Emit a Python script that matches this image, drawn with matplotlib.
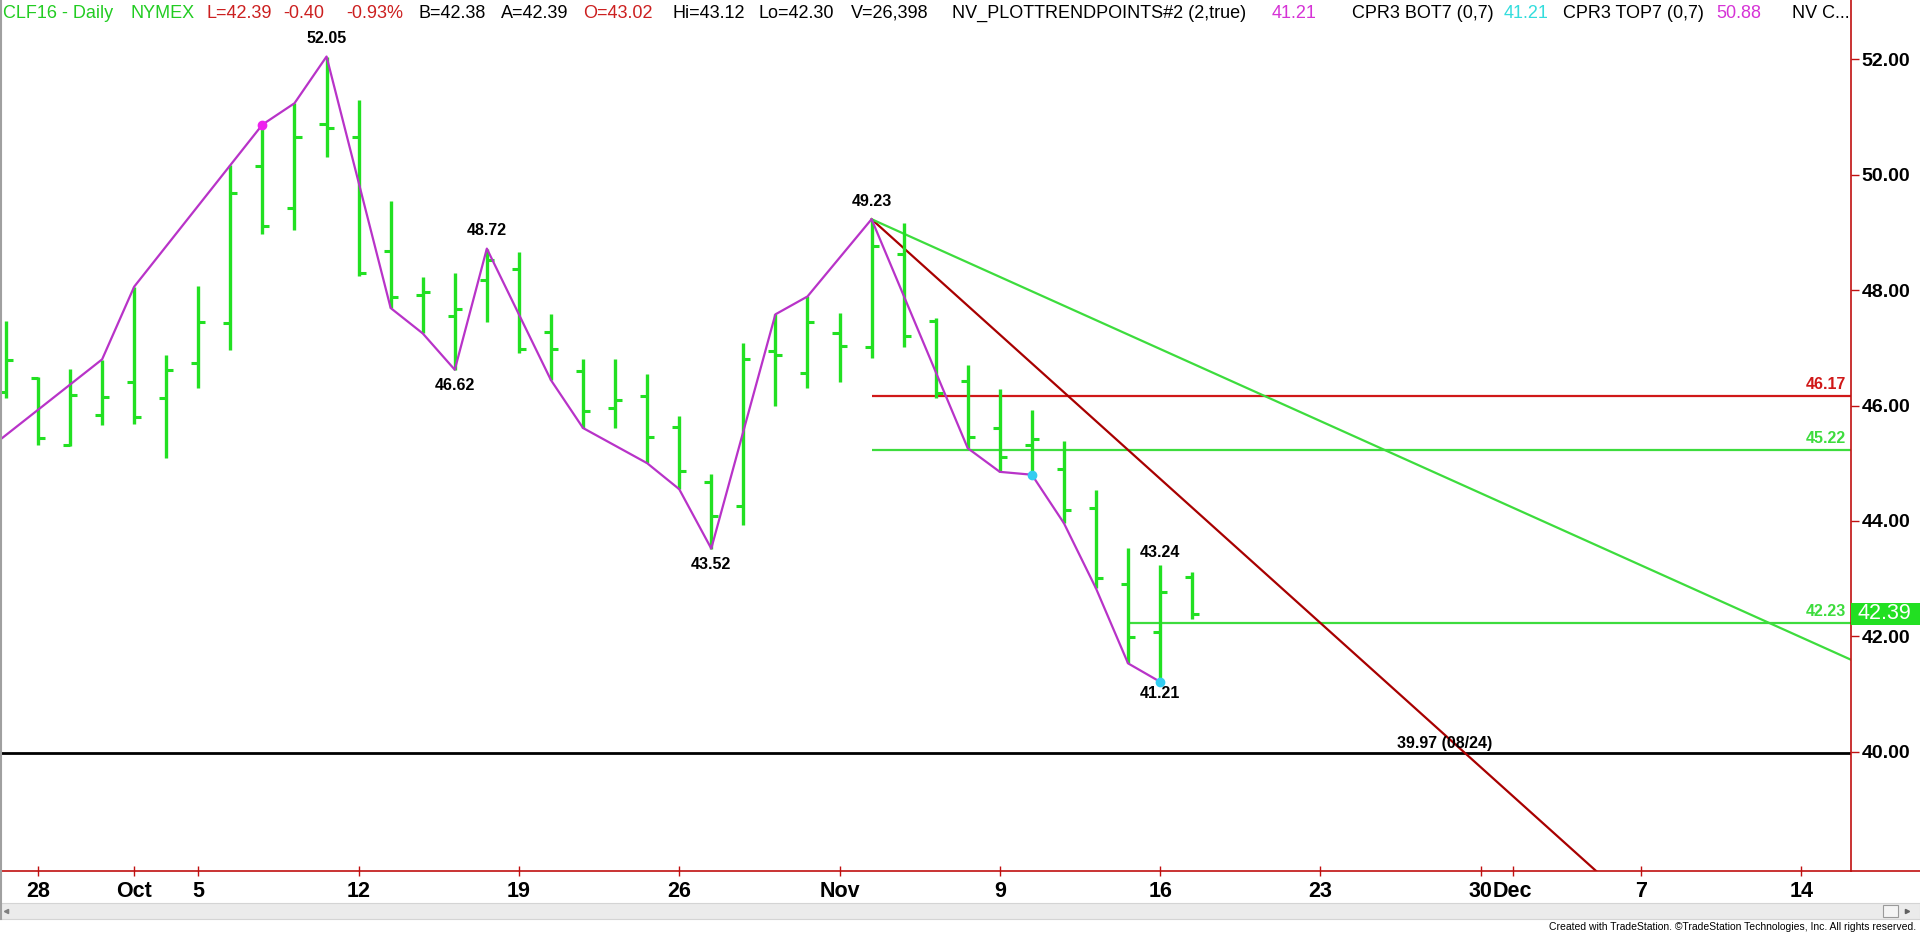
import matplotlib

matplotlib.use("Agg")

import matplotlib.pyplot as plt
import pandas as pd
from matplotlib.lines import Line2D
from matplotlib.patches import Rectangle
from matplotlib.transforms import blended_transform_factory


# CLF16 daily bars (left tick = open, right tick = close)
BAR_DATES = [
    "2015-09-25", "2015-09-28", "2015-09-29", "2015-09-30", "2015-10-01",
    "2015-10-02", "2015-10-05", "2015-10-06", "2015-10-07", "2015-10-08",
    "2015-10-09", "2015-10-12", "2015-10-13", "2015-10-14", "2015-10-15",
    "2015-10-16", "2015-10-19", "2015-10-20", "2015-10-21", "2015-10-22",
    "2015-10-23", "2015-10-26", "2015-10-27", "2015-10-28", "2015-10-29",
    "2015-10-30", "2015-11-02", "2015-11-03", "2015-11-04", "2015-11-05",
    "2015-11-06", "2015-11-09", "2015-11-10", "2015-11-11", "2015-11-12",
    "2015-11-13", "2015-11-16", "2015-11-17",
]
OPENS = [
    46.24, 46.47, 45.32, 45.84, 46.40, 46.13, 46.73, 47.43, 50.16, 49.42,
    50.88, 50.65, 48.67, 47.92, 47.55, 48.18, 48.37, 47.27, 46.60, 45.95,
    46.17, 45.62, 44.68, 44.26, 46.95, 46.56, 47.25, 47.01, 48.63, 47.47,
    46.43, 45.61, 45.31, 44.90, 44.22, 42.91, 42.08, 43.02,
]
HIGHS = [
    47.47, 46.50, 46.63, 46.79, 48.06, 46.88, 48.07, 50.17, 50.87, 51.24,
    52.05, 51.30, 49.55, 48.22, 48.30, 48.72, 48.66, 47.59, 46.80, 46.80,
    46.55, 45.82, 44.81, 47.09, 47.58, 47.89, 47.60, 49.23, 49.17, 47.51,
    46.70, 46.28, 45.92, 45.38, 44.54, 43.53, 43.24, 43.12,
]
LOWS = [
    46.13, 45.32, 45.30, 45.66, 45.68, 45.09, 46.30, 46.96, 48.98, 49.05,
    50.31, 48.24, 47.69, 47.25, 46.62, 47.44, 46.91, 46.44, 45.61, 45.61,
    45.00, 44.55, 43.52, 43.93, 45.99, 46.30, 46.40, 46.82, 47.02, 46.13,
    45.26, 44.85, 44.80, 43.96, 42.83, 41.53, 41.21, 42.30,
]
CLOSES = [
    46.79, 45.43, 46.18, 46.14, 45.80, 46.62, 47.44, 49.69, 49.11, 50.66,
    50.81, 48.29, 47.88, 47.96, 47.67, 48.53, 46.98, 46.98, 45.91, 46.10,
    45.45, 44.87, 44.09, 46.80, 46.88, 47.44, 47.03, 48.77, 47.20, 46.21,
    45.46, 45.10, 45.42, 44.19, 43.01, 41.99, 42.76, 42.39,
]

# NV_PLOTTRENDPOINTS swing line
SWING_DATES = [
    "2015-09-24", "2015-09-30", "2015-10-01", "2015-10-07", "2015-10-08",
    "2015-10-09", "2015-10-13", "2015-10-14", "2015-10-15", "2015-10-16",
    "2015-10-20", "2015-10-21", "2015-10-23", "2015-10-26", "2015-10-27",
    "2015-10-29", "2015-10-30", "2015-11-03", "2015-11-06", "2015-11-09",
    "2015-11-10", "2015-11-11", "2015-11-12", "2015-11-13", "2015-11-16",
]
SWING_PRICES = [
    45.05, 46.80, 48.06, 50.87, 51.24, 52.05, 47.69, 47.25, 46.62, 48.72,
    46.44, 45.61, 45.00, 44.55, 43.52, 47.58, 47.89, 49.23, 45.26, 44.85,
    44.80, 43.96, 42.83, 41.53, 41.21,
]

# labelled pivots: +1 label above, -1 label below
PIVOT_DATES = [
    "2015-10-09", "2015-10-15", "2015-10-16", "2015-10-27",
    "2015-11-03", "2015-11-16", "2015-11-16",
]
PIVOT_PRICES = [52.05, 46.62, 48.72, 43.52, 49.23, 43.24, 41.21]
PIVOT_SIDES = [1, -1, 1, -1, 1, 1, -1]

MAGENTA_DOT_DATES = ["2015-10-07"]
MAGENTA_DOT_PRICES = [50.87]
CYAN_DOT_DATES = ["2015-11-10", "2015-11-16"]
CYAN_DOT_PRICES = [44.80, 41.21]

# horizontal levels drawn from a start date to the right edge
LEVEL_PRICES = [46.17, 45.22, 42.23]
LEVEL_STARTS = ["2015-11-03", "2015-11-03", "2015-11-13"]

# trend lines off the 49.23 high
TREND_START_DATE = "2015-11-03"
TREND_START_PRICE = 49.23
RED_TREND_END_DATE = "2015-12-04"
RED_TREND_END_PRICE = 37.73
GREEN_TREND_END_DATE = "2015-12-16"
GREEN_TREND_END_PRICE = 41.48

SUPPORT_PRICE = 39.97
SUPPORT_LABEL = "39.97 (08/24)"
LAST_PRICE = 42.39

PRICE_TICKS = [40.0, 42.0, 44.0, 46.0, 48.0, 50.0, 52.0]
TICK_DATES = [
    "2015-09-28", "2015-10-01", "2015-10-05", "2015-10-12", "2015-10-19",
    "2015-10-26", "2015-11-02", "2015-11-09", "2015-11-16", "2015-11-23",
    "2015-11-30", "2015-12-01", "2015-12-07", "2015-12-14",
]
TICK_LABELS = [
    "28", "Oct", "5", "12", "19", "26", "Nov", "9", "16", "23", "30", "Dec",
    "7", "14",
]

HEADER = [
    ("CLF16 - Daily", "#22cc22", 3),
    ("NYMEX", "#22cc22", 130),
    ("L=42.39", "#cc2020", 207),
    ("-0.40", "#cc2020", 283),
    ("-0.93%", "#cc2020", 346),
    ("B=42.38", "black", 418),
    ("A=42.39", "black", 501),
    ("O=43.02", "#cc2020", 583),
    ("Hi=43.12", "black", 672),
    ("Lo=42.30", "black", 759),
    ("V=26,398", "black", 851),
    ("NV_PLOTTRENDPOINTS#2 (2,true)", "black", 952),
    ("41.21", "#d633d6", 1272),
    ("CPR3 BOT7 (0,7)", "black", 1352),
    ("41.21", "#33dddd", 1504),
    ("CPR3 TOP7 (0,7)", "black", 1563),
    ("50.88", "#d633d6", 1716),
    ("NV C...", "black", 1792),
]

BAR_GREEN = "#22e022"
LINE_GREEN = "#3ddc3d"
AXIS_RED = "#c01010"
FONT = "Liberation Sans"

FIG_W, FIG_H = 1920, 934
AX_RIGHT_PX = 1851
AX_BOTTOM_PX = 871
PX_PER_DAY = 32.06
FIRST_BAR_PX = 5.94


def main() -> None:
    calendar = pd.bdate_range("2015-09-24", "2015-12-18")

    def xs(dates):
        return [calendar.get_loc(pd.Timestamp(d)) for d in dates]

    fig = plt.figure(figsize=(FIG_W / 100, FIG_H / 100), dpi=100)
    fig.patch.set_facecolor("white")
    ax = fig.add_axes(
        [0, (FIG_H - AX_BOTTOM_PX) / FIG_H, AX_RIGHT_PX / FIG_W, AX_BOTTOM_PX / FIG_H]
    )

    first = xs(BAR_DATES[:1])[0]
    x_left = first - FIRST_BAR_PX / PX_PER_DAY
    ax.set_xlim(x_left, x_left + AX_RIGHT_PX / PX_PER_DAY)
    ax.set_ylim(37.93, 53.03)

    # OHLC bars
    bx = xs(BAR_DATES)
    tick = 0.22
    ax.vlines(bx, LOWS, HIGHS, color=BAR_GREEN, lw=2.4, zorder=3)
    ax.hlines(OPENS, [x - tick for x in bx], bx, color=BAR_GREEN, lw=2.2, zorder=3)
    ax.hlines(CLOSES, bx, [x + tick for x in bx], color=BAR_GREEN, lw=2.2, zorder=3)

    # levels
    x_right = ax.get_xlim()[1]
    level_colors = ["#d01818", LINE_GREEN, LINE_GREEN]
    for price, start, color in zip(LEVEL_PRICES, LEVEL_STARTS, level_colors):
        ax.hlines(price, xs([start])[0], x_right, color=color, lw=1.6, zorder=2)
        ax.text(
            0.9975, price + 0.07, f"{price:.2f}",
            transform=blended_transform_factory(ax.transAxes, ax.transData),
            ha="right", va="bottom", color=color, fontsize=11.5,
            fontweight="bold", family=FONT,
        )

    ax.axhline(SUPPORT_PRICE, color="black", lw=2.0, zorder=2)
    ax.text(
        1397 / AX_RIGHT_PX, SUPPORT_PRICE + 0.04, SUPPORT_LABEL,
        transform=blended_transform_factory(ax.transAxes, ax.transData),
        ha="left", va="bottom", color="black", fontsize=11.5,
        fontweight="bold", family=FONT, zorder=4,
    )

    # trend lines
    x0 = xs([TREND_START_DATE])[0]
    ax.plot(
        [x0, xs([RED_TREND_END_DATE])[0]], [TREND_START_PRICE, RED_TREND_END_PRICE],
        color="#a80000", lw=1.6, zorder=2,
    )
    ax.plot(
        [x0, xs([GREEN_TREND_END_DATE])[0]], [TREND_START_PRICE, GREEN_TREND_END_PRICE],
        color=LINE_GREEN, lw=1.6, zorder=2,
    )

    # swing line and dots
    ax.plot(xs(SWING_DATES), SWING_PRICES, color="#b833c8", lw=1.6, zorder=4)
    ax.plot(xs(MAGENTA_DOT_DATES), MAGENTA_DOT_PRICES, "o", color="#ee22ee",
            ms=6, zorder=5)
    ax.plot(xs(CYAN_DOT_DATES), CYAN_DOT_PRICES, "o", color="#33ccf0",
            ms=6, zorder=5)

    for date, price, side in zip(PIVOT_DATES, PIVOT_PRICES, PIVOT_SIDES):
        if date == "2015-11-16":
            offset = 8.5
        else:
            offset = 13 if side > 0 else 11.5
        ax.annotate(
            f"{price:.2f}", (xs([date])[0], price),
            xytext=(0, side * offset), textcoords="offset points",
            ha="center", va="center", fontsize=11.5, fontweight="bold",
            family=FONT, color="black", zorder=6,
        )

    # axes styling
    for side in ("left", "top"):
        ax.spines[side].set_visible(False)
    for side in ("right", "bottom"):
        ax.spines[side].set_color(AXIS_RED)
        ax.spines[side].set_linewidth(1.2)

    ax.yaxis.tick_right()
    ax.set_yticks(PRICE_TICKS)
    ax.set_yticklabels([f"{p:.2f}" for p in PRICE_TICKS])
    ax.tick_params(axis="y", direction="out", length=6, width=1,
                   color=AXIS_RED, pad=1.5, labelsize=14)
    ax.set_xticks(xs(TICK_DATES))
    ax.set_xticklabels(TICK_LABELS)
    ax.tick_params(axis="x", direction="inout", length=7, width=1,
                   color=AXIS_RED, pad=3.5, labelsize=15.5)
    for label in ax.get_xticklabels() + ax.get_yticklabels():
        label.set_fontfamily(FONT)
        label.set_fontweight("bold")

    # last price box on the price scale
    box_h = 22 / 57.67
    ax.add_patch(Rectangle(
        (1.0, LAST_PRICE - box_h / 2), (FIG_W - AX_RIGHT_PX) / AX_RIGHT_PX, box_h,
        transform=blended_transform_factory(ax.transAxes, ax.transData),
        facecolor="#22e022", edgecolor="none", clip_on=False, zorder=6,
    ))
    ax.text(
        1.0 + 7 / AX_RIGHT_PX, LAST_PRICE, f"{LAST_PRICE:.2f}",
        transform=blended_transform_factory(ax.transAxes, ax.transData),
        ha="left", va="center", color="white", fontsize=15.5, family=FONT,
        clip_on=False, zorder=7,
    )

    # header line
    for text, color, x_px in HEADER:
        fig.text(x_px / FIG_W, 1 - 13 / FIG_H, text, color=color, fontsize=13,
                 family=FONT, ha="left", va="center")

    # window chrome: axis line under price scale, left border, scrollbar, footer
    y_axis = (FIG_H - AX_BOTTOM_PX) / FIG_H
    fig.add_artist(Line2D([AX_RIGHT_PX / FIG_W, 1], [y_axis, y_axis],
                          color=AXIS_RED, lw=1.2))
    fig.add_artist(Line2D([0.6 / FIG_W, 0.6 / FIG_W], [15 / FIG_H, 1],
                          color="#a0a0a0", lw=1.5))
    fig.add_artist(Rectangle((0, 15 / FIG_H), 1, 16 / FIG_H, facecolor="#ebebeb",
                             edgecolor="#d4d4d4", lw=0.8))
    fig.add_artist(Rectangle((1883 / FIG_W, 17 / FIG_H), 15 / FIG_W, 12 / FIG_H,
                             facecolor="#f4f4f4", edgecolor="#9a9a9a", lw=0.8))
    fig.add_artist(Line2D([6 / FIG_W], [23 / FIG_H], marker="<", ms=3,
                          color="#808080", lw=0))
    fig.add_artist(Line2D([1907 / FIG_W], [23 / FIG_H], marker=">", ms=3,
                          color="#606060", lw=0))
    fig.text(1916 / FIG_W, 7 / FIG_H,
             "Created with TradeStation. \u00a9TradeStation Technologies, Inc. "
             "All rights reserved.",
             ha="right", va="center", fontsize=7.5,
             family=["Liberation Sans Narrow", FONT], color="black")

    fig.savefig("out.png", dpi=100, facecolor="white")
    plt.close(fig)


if __name__ == "__main__":
    main()
